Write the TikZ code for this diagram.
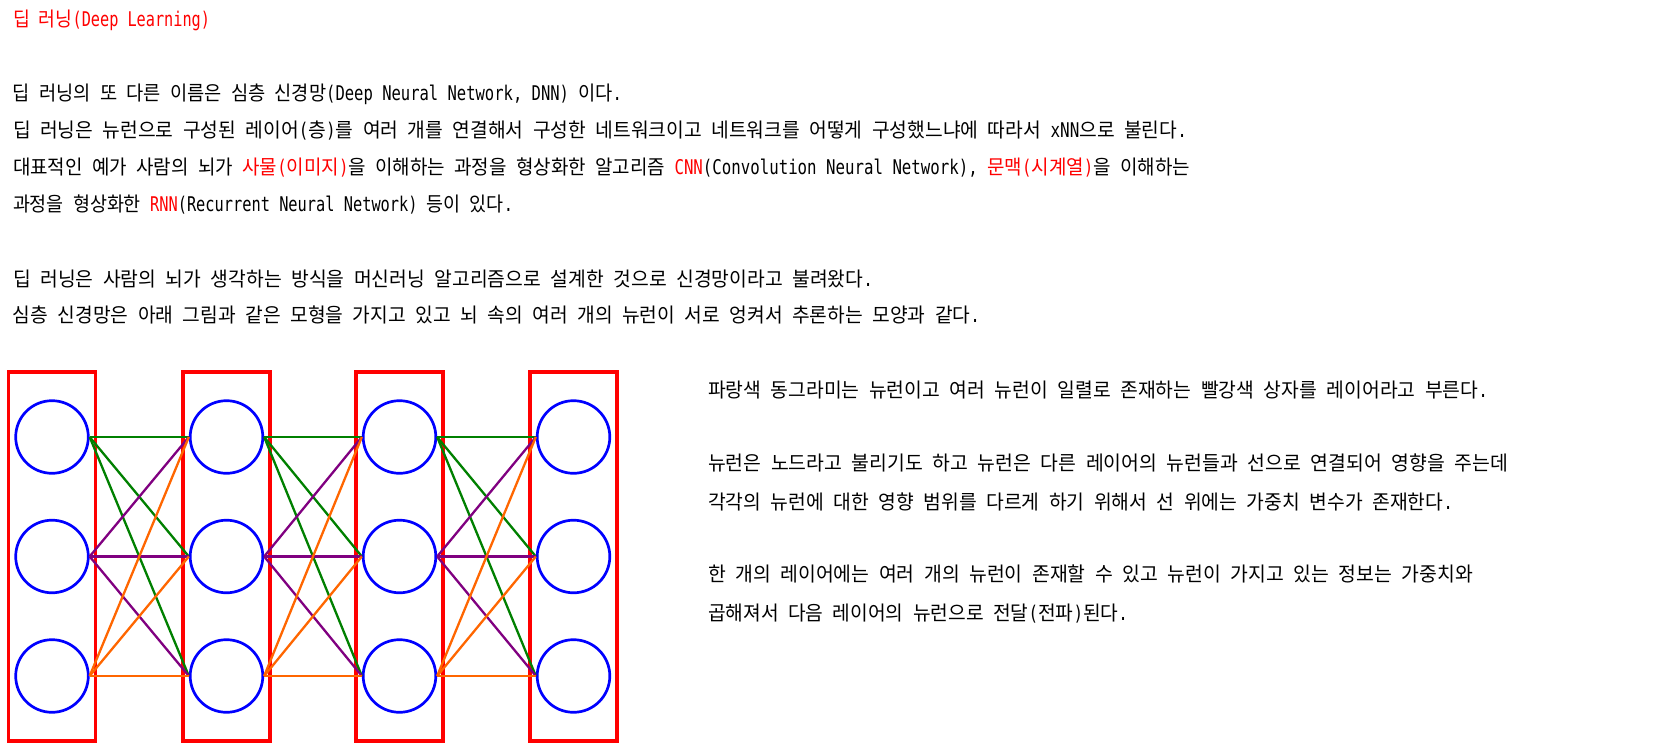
\documentclass[tikz,border=0pt]{standalone}
\usepackage{fontspec}
\usepackage{graphicx}
\setmainfont{Noto Sans CJK KR}[WordSpace=2.2]
\newfontfamily\latf{DejaVu Sans Mono}[Scale=0.83]
\newcommand\lat[1]{\scalebox{1}[1.22]{\latf #1}}
\newcommand\rd[1]{\textcolor{txtred}{#1}}
\newcommand\fitto[2]{\resizebox{#1pt}{\height}{#2}}
\definecolor{txtred}{HTML}{FF0000}
\definecolor{boxred}{HTML}{FF0000}
\definecolor{neuronblue}{HTML}{0000FF}
\definecolor{lgreen}{HTML}{008000}
\definecolor{lpurple}{HTML}{800080}
\definecolor{lorange}{HTML}{FF6600}
\begin{document}
\begin{tikzpicture}[x=0.5pt,y=-0.5pt,
  txt/.style={anchor=base west,inner sep=0pt,outer sep=0pt,font=\fontsize{10}{12}\selectfont,text=black},
  layerbox/.style={draw=boxred,line width=1.65pt},
  neuron/.style={circle,draw=neuronblue,line width=1.35pt,minimum size=36.3pt,inner sep=0pt,fill=white},
  wg/.style={draw=lgreen,line width=1.15pt},
  wp/.style={draw=lpurple,line width=1.15pt},
  wo/.style={draw=lorange,line width=1.15pt}]
\useasboundingbox (0,0) rectangle (1668,753);
% texts
\node[txt,text=txtred] (title) at (13,27) {\fitto{98.5}{딥 러닝\lat{(Deep Learning)}}};
\node[txt] (la) at (13,101) {\fitto{304.5}{딥 러닝의 또 다른 이름은 심층 신경망\lat{(Deep Neural Network, DNN)} 이다\lat{.}}};
\node[txt] (lb) at (13,138) {\fitto{587}{딥 러닝은 뉴런으로 구성된 레이어\lat{(}층\lat{)}를 여러 개를 연결해서 구성한 네트워크이고 네트워크를 어떻게 구성했느냐에 따라서 \lat{xNN}으로 불린다\lat{.}}};
\node[txt] (lc) at (13,175) {\fitto{588.5}{대표적인 예가 사람의 뇌가 \rd{사물\lat{(}이미지\lat{)}}을 이해하는 과정을 형상화한 알고리즘 \rd{\lat{CNN}}\lat{(Convolution Neural Network),} \rd{문맥\lat{(}시계열\lat{)}}을 이해하는}};
\node[txt] (ld) at (13,212) {\fitto{250}{과정을 형상화한 \rd{\lat{RNN}}\lat{(Recurrent Neural Network)} 등이 있다\lat{.}}};
\node[txt] (le) at (13,286) {\fitto{430}{딥 러닝은 사람의 뇌가 생각하는 방식을 머신러닝 알고리즘으로 설계한 것으로 신경망이라고 불려왔다\lat{.}}};
\node[txt] (lf) at (13,322) {\fitto{483.5}{심층 신경망은 아래 그림과 같은 모형을 가지고 있고 뇌 속의 여러 개의 뉴런이 서로 엉켜서 추론하는 모양과 같다\lat{.}}};
\node[txt] (r1) at (708,397) {\fitto{390}{파랑색 동그라미는 뉴런이고 여러 뉴런이 일렬로 존재하는 빨강색 상자를 레이어라고 부른다\lat{.}}};
\node[txt] (r2) at (708,470) {\fitto{400}{뉴런은 노드라고 불리기도 하고 뉴런은 다른 레이어의 뉴런들과 선으로 연결되어 영향을 주는데}};
\node[txt] (r3) at (708,509) {\fitto{372.5}{각각의 뉴런에 대한 영향 범위를 다르게 하기 위해서 선 위에는 가중치 변수가 존재한다\lat{.}}};
\node[txt] (r4) at (708,581) {\fitto{382.5}{한 개의 레이어에는 여러 개의 뉴런이 존재할 수 있고 뉴런이 가지고 있는 정보는 가중치와}};
\node[txt] (r5) at (708,620) {\fitto{210}{곱해져서 다음 레이어의 뉴런으로 전달\lat{(}전파\lat{)}된다\lat{.}}};
% layer boxes
\foreach \i/\cx in {1/52,2/226.5,3/399.5,4/573.5}{
  \draw[layerbox] (\cx-43.5,372) rectangle (\cx+43.5,741);
}
% neurons
\foreach \i/\cx in {1/52,2/226.5,3/399.5,4/573.5}{
  \foreach \j/\cy in {1/437,2/556.5,3/676}{
    \node[neuron] (n\i\j) at (\cx,\cy) {};
  }
}
% connections
\foreach \i/\k in {1/2,2/3,3/4}{
  \foreach \t in {1,2,3}{\draw[wg] (n\i1.east) -- (n\k\t.west);}
  \foreach \t in {1,2,3}{\draw[wp] (n\i2.east) -- (n\k\t.west);}
  \foreach \t in {1,2,3}{\draw[wo] (n\i3.east) -- (n\k\t.west);}
}
\end{tikzpicture}
\end{document}
